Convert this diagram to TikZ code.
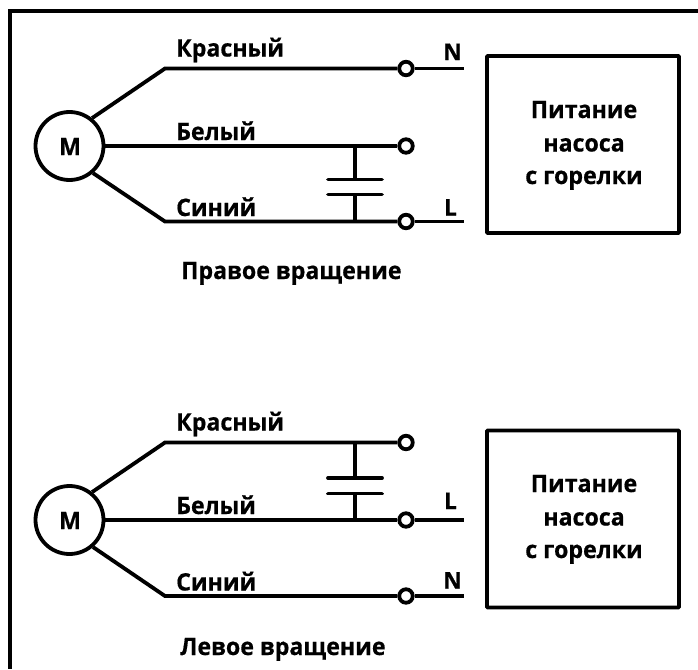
\documentclass[tikz,border=0pt]{standalone}
\usepackage{fontspec}
\setmainfont{Open Sans}[FakeStretch=0.965,BoldFeatures={FakeBold=0.6}]
\tikzset{
  wire/.style={line width=3.8pt,line cap=butt,line join=miter},
  plate/.style={line width=3.8pt,line cap=round},
  frameline/.style={line width=4pt},
  motor/.style={circle,draw,line width=3.8pt,inner sep=0pt,minimum size=68pt},
  term/.style={circle,draw,fill=white,line width=3.8pt,inner sep=0pt,minimum size=13.5pt},
  supply/.style={draw,line width=3.8pt,rounded corners=0.8pt,inner sep=0pt,minimum width=192pt,minimum height=177pt},
  lab/.style={anchor=base west,inner sep=0pt,font=\bfseries\fontsize{24}{24}\selectfont},
  clab/.style={anchor=base,inner sep=0pt,font=\bfseries\fontsize{24}{24}\selectfont},
  tlab/.style={anchor=base,inner sep=0pt,font=\bfseries\fontsize{23}{23}\selectfont},
  caption/.style={anchor=base west,inner sep=0pt,font=\bfseries\fontsize{24}{24}\selectfont}
}
\begin{document}
\begin{tikzpicture}[x=1pt,y=-1pt]
\useasboundingbox (0,0) rectangle (698,669);
\coordinate (fa) at (698,11.5);
\coordinate (fb) at (9.7,11.5);
\coordinate (fc) at (9.7,669);
\draw[frameline] (fa) -- (fb) -- (fc);
% upper diagram
\node[motor] (m1) at (69.5,146) {};
\node[clab] (m1t) at (70,155) {М};
\coordinate (k1a) at (165,68.5);
\coordinate (k1c) at (165,221.5);
\node[term] (t1a) at (406,68.5) {};
\node[term] (t1b) at (406,146) {};
\node[term] (t1c) at (406,221.5) {};
\coordinate (e1a) at (463.5,68.5);
\coordinate (e1c) at (463.5,221.5);
\draw[wire] (m1.51) -- (k1a) -- (t1a);
\draw[wire] (m1) -- (t1b);
\draw[wire] (m1.-49) -- (k1c) -- (t1c);
\draw[wire] (t1a) -- (e1a);
\draw[wire] (t1c) -- (e1c);
\coordinate (s1t) at (355,146);
\coordinate (s1b) at (355,221.5);
\coordinate (p1tl) at (328,179.5);
\coordinate (p1tr) at (382,179.5);
\coordinate (p1bl) at (328,194.5);
\coordinate (p1br) at (382,194.5);
\coordinate (p1tm) at (355,179.5);
\coordinate (p1bm) at (355,194.5);
\draw[wire] (s1t) -- (p1tm);
\draw[wire] (p1bm) -- (s1b);
\draw[plate] (p1tl) -- (p1tr);
\draw[plate] (p1bl) -- (p1br);
\node[lab] (l1a) at (176,56.5) {Красный};
\node[lab] (l1b) at (176,140) {Белый};
\node[lab] (l1c) at (176,216) {Синий};
\node[tlab] (n1) at (452.5,60) {N};
\node[tlab] (n1l) at (450.5,215.5) {L};
\node[supply] (b1) at (583,144.5) {};
\node[clab] (b1x) at (584,118) {Питание};
\node[clab] (b1y) at (584,151.5) {насоса};
\node[clab] (b1z) at (584,184) {с горелки};
\node[caption] (c1) at (181,279) {Правое вращение};
% lower diagram
\node[motor] (m2) at (69.5,520) {};
\node[clab] (m2t) at (70,529) {М};
\coordinate (k2a) at (165,442.5);
\coordinate (k2c) at (165,596);
\node[term] (t2a) at (406,442.5) {};
\node[term] (t2b) at (406,520) {};
\node[term] (t2c) at (406,596) {};
\coordinate (e2b) at (463.5,520);
\coordinate (e2c) at (463.5,596);
\draw[wire] (m2.51) -- (k2a) -- (t2a);
\draw[wire] (m2) -- (t2b);
\draw[wire] (m2.-49) -- (k2c) -- (t2c);
\draw[wire] (t2b) -- (e2b);
\draw[wire] (t2c) -- (e2c);
\coordinate (s2t) at (355,442.5);
\coordinate (s2b) at (355,520);
\coordinate (p2tl) at (328,478);
\coordinate (p2tr) at (382,478);
\coordinate (p2bl) at (328,493.5);
\coordinate (p2br) at (382,493.5);
\coordinate (p2tm) at (355,478);
\coordinate (p2bm) at (355,493.5);
\draw[wire] (s2t) -- (p2tm);
\draw[wire] (p2bm) -- (s2b);
\draw[plate] (p2tl) -- (p2tr);
\draw[plate] (p2bl) -- (p2br);
\node[lab] (l2a) at (176,430.5) {Красный};
\node[lab] (l2b) at (176,514) {Белый};
\node[lab] (l2c) at (176,590.5) {Синий};
\node[tlab] (n2l) at (450.5,509) {L};
\node[tlab] (n2) at (452.5,588.5) {N};
\node[supply] (b2) at (583,519) {};
\node[clab] (b2x) at (584,492) {Питание};
\node[clab] (b2y) at (584,525.5) {насоса};
\node[clab] (b2z) at (584,558) {с горелки};
\node[caption] (c2) at (180,655) {Левое вращение};
\end{tikzpicture}
\end{document}
